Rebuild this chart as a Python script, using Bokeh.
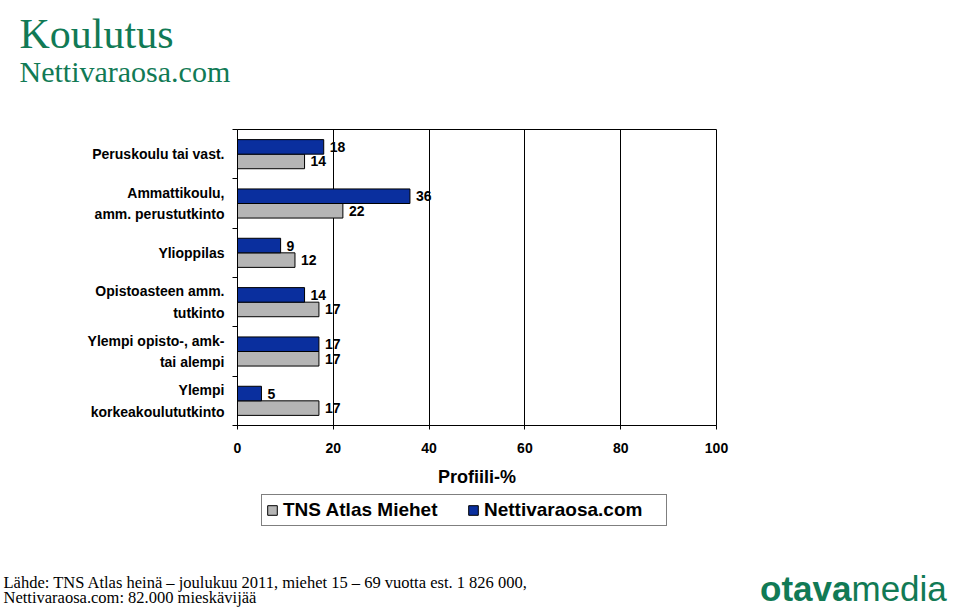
from bokeh.plotting import figure
from bokeh.layouts import column
from bokeh.models import (ColumnDataSource, Range1d, FixedTicker, Label, Legend, LegendItem)
from bokeh.core.properties import value
from bokeh.embed import file_html
from bokeh.resources import INLINE

# ---- data ----
categories = ["Peruskoulu tai vast.",
              "Ammattikoulu,\namm. perustutkinto",
              "Ylioppilas",
              "Opistoasteen amm.\ntutkinto",
              "Ylempi opisto-, amk-\ntai alempi",
              "Ylempi\nkorkeakoulututkinto"]
netti = [18, 36, 9, 14, 17, 5]
tns = [14, 22, 12, 17, 17, 17]
x_ticks = [0, 20, 40, 60, 80, 100]
series_names = ["TNS Atlas Miehet", "Nettivaraosa.com"]

BLUE = "#0a2f9e"
GRAY = "#b5b5b5"
GREEN = "#117a55"
FONT = "Liberation Sans"
SERIF = "Liberation Serif"
W = 960
NAN = float("nan")


def no_align(f):
    try:
        f.frame_align = False
    except Exception:
        pass


def blank(h):
    f = figure(width=W, height=h, output_backend="svg", toolbar_location=None,
               x_range=Range1d(0, W), y_range=Range1d(h, 0),
               x_axis_location=None, y_axis_location=None,
               min_border=0)
    f.outline_line_color = None
    f.grid.grid_line_color = None
    f.background_fill_color = "white"
    f.border_fill_color = "white"
    no_align(f)
    return f


def lab(f, text, x, y, size, font, color="black", style="normal", align="left"):
    f.add_layout(Label(x=x, y=y, text=text, text_font=font, text_font_size=size,
                       text_color=color, text_font_style=style,
                       text_baseline="alphabetic", text_align=align))


# ---- top (titles) ----
TOP_H = 110
top = blank(TOP_H)
lab(top, "Koulutus", 19, 33, "42px", SERIF, GREEN)
lab(top, "Nettivaraosa.com", 19, 71, "30px", SERIF, GREEN)

# ---- main chart ----
n = len(categories)
centers = [n - 0.5 - i for i in range(n)]
bh = 0.295

src = ColumnDataSource(dict(
    yb=[c + bh / 2 for c in centers],
    yg=[c - bh / 2 for c in centers],
    netti=netti, tns=tns,
    nlab=[str(v) for v in netti], tlab=[str(v) for v in tns],
))

MAIN_H = 383
p = figure(width=W, height=MAIN_H, output_backend="svg", toolbar_location=None,
           x_range=Range1d(0, 100), y_range=Range1d(0, n),
           min_border_left=237, min_border_right=W - 716,
           min_border_top=129 - TOP_H, min_border_bottom=68)
no_align(p)
p.background_fill_color = "white"
p.border_fill_color = "white"
p.outline_line_color = "black"
p.outline_line_width = 1

rg = p.hbar(y="yg", right="tns", left=0, height=bh, source=src,
            fill_color=GRAY, line_color="black", line_width=1)
rb = p.hbar(y="yb", right="netti", left=0, height=bh, source=src,
            fill_color=BLUE, line_color="black", line_width=1)

for xcol, ycol, tcol in (("netti", "yb", "nlab"), ("tns", "yg", "tlab")):
    p.text(x=xcol, y=ycol, text=tcol, source=src, x_offset=6,
           text_font=value(FONT), text_font_style="bold", text_font_size="14px",
           text_baseline="middle", text_color="black")

p.xaxis.ticker = FixedTicker(ticks=x_ticks)
p.xaxis.axis_label = "Profiili-%"
p.xaxis.axis_label_text_font = FONT
p.xaxis.axis_label_text_font_style = "bold"
p.xaxis.axis_label_text_font_size = "18px"
p.xaxis.axis_label_text_color = "black"
p.xaxis.axis_label_standoff = 11
p.xaxis.major_label_text_font = FONT
p.xaxis.major_label_text_font_style = "bold"
p.xaxis.major_label_text_font_size = "14px"
p.xaxis.major_label_text_color = "black"
p.xaxis.major_label_standoff = 13
p.xaxis.major_tick_out = 4
p.xaxis.major_tick_in = 0
p.xaxis.minor_tick_line_color = None
p.xaxis.axis_line_color = "black"
p.xaxis.major_tick_line_color = "black"

p.xgrid.ticker = FixedTicker(ticks=x_ticks[1:-1])
p.xgrid.grid_line_color = "black"
p.xgrid.grid_line_width = 1
p.ygrid.grid_line_color = None

p.yaxis.ticker = FixedTicker(ticks=centers, minor_ticks=list(range(n + 1)))
p.yaxis.major_label_overrides = {c: t for c, t in zip(centers, categories)}
p.yaxis.major_label_text_font = FONT
p.yaxis.major_label_text_font_style = "bold"
p.yaxis.major_label_text_font_size = "14px"
p.yaxis.major_label_text_color = "black"
p.yaxis.major_label_text_line_height = 1.35
p.yaxis.major_label_text_align = "right"
p.yaxis.major_label_standoff = 8
p.yaxis.major_tick_out = 0
p.yaxis.major_tick_in = 0
p.yaxis.minor_tick_out = 5
p.yaxis.minor_tick_in = 0
p.yaxis.minor_tick_line_color = "black"
p.yaxis.axis_line_color = "black"

# ---- bottom (legend + footer) ----
BOT_H = 607 - TOP_H - MAIN_H
bot = blank(BOT_H)
y0 = TOP_H + MAIN_H
# swatch-only renderers for the legend (no visible data)
lg = bot.hbar(y=[NAN], right=[NAN], height=1, fill_color=GRAY, line_color="black")
lb = bot.hbar(y=[NAN], right=[NAN], height=1, fill_color=BLUE, line_color="black")
legend = Legend(items=[LegendItem(label=series_names[0], renderers=[lg]),
                       LegendItem(label=series_names[1], renderers=[lb])],
                orientation="horizontal", location=(261, BOT_H - (526 - y0)),
                label_text_font=FONT, label_text_font_style="bold",
                label_text_font_size="19px", label_text_color="black",
                label_width=178, glyph_width=12, glyph_height=12, spacing=6,
                label_standoff=5, padding=4, margin=0,
                border_line_color="black", border_line_width=1)
bot.add_layout(legend, "center")

lab(bot, "Lähde: TNS Atlas heinä – joulukuu 2011, miehet 15 – 69 vuotta est. 1 826 000,",
    3, 582 - y0, "16.5px", SERIF)
lab(bot, "Nettivaraosa.com: 82.000 mieskävijää", 3, 597 - y0, "16.5px", SERIF)
lab(bot, "otava", 851, 588 - y0, "35px", FONT, GREEN, "bold", "right")
lab(bot, "media", 851, 588 - y0, "35px", FONT, GREEN, "normal", "left")

layout = column(top, p, bot, spacing=0)
open("out.html", "w").write(file_html(layout, INLINE))
